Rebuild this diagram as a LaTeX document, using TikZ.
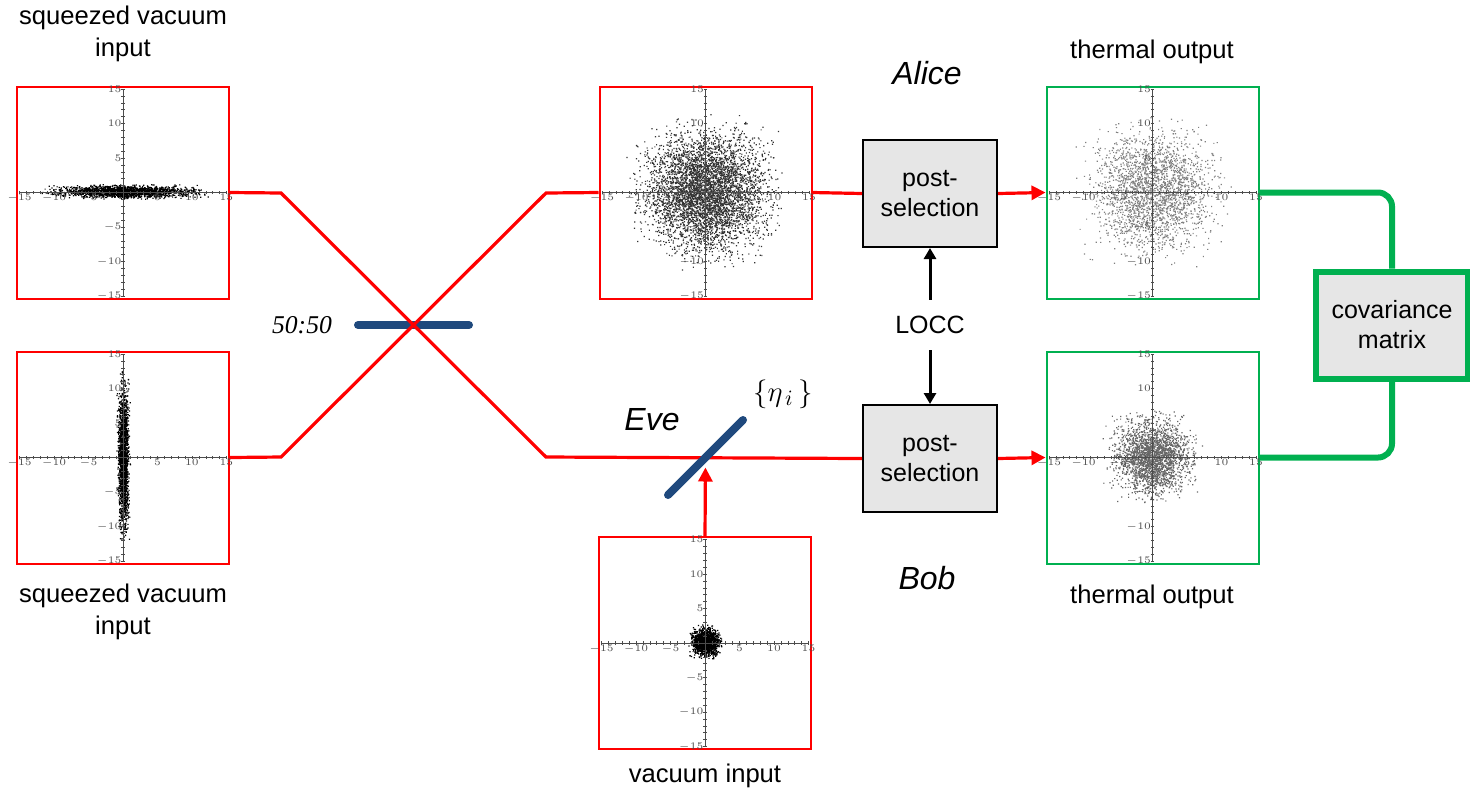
\documentclass[tikz,border=0pt]{standalone}
\usepackage{fontspec}
\setmainfont{Liberation Sans}
\newfontfamily\timesfont{Liberation Serif}
\usetikzlibrary{arrows.meta}
\definecolor{beamred}{RGB}{255,0,0}
\definecolor{linkgreen}{RGB}{0,176,80}
\definecolor{splitblue}{RGB}{31,73,125}
\definecolor{boxgray}{RGB}{230,230,230}
\tikzset{
  plotbox/.style={draw=#1, line width=1pt, minimum size=106pt, inner sep=0pt},
  plotbox/.default=beamred,
  beam/.style={draw=beamred, line width=1.6pt},
  beamarrow/.style={beam, -{Triangle[length=7pt,width=7pt]}},
  link/.style={draw=linkgreen, line width=3pt, rounded corners=7pt},
  ctrl/.style={draw=black, line width=1.5pt, -{Triangle[length=5.5pt,width=6pt]}},
  splitter/.style={draw=splitblue, line width=4pt, line cap=round},
  psbox/.style={draw=black, fill=boxgray, line width=1pt, minimum width=67pt,
    minimum height=53.5pt, align=center, font=\fontsize{12.5}{15}\selectfont},
  covbox/.style={psbox, draw=linkgreen, line width=3pt, minimum width=76pt},
  caption/.style={align=center, font=\fontsize{12.8}{16}\selectfont},
  party/.style={font=\fontsize{16}{18}\selectfont\itshape},
  axis/.style={draw=black!70, line width=0.3pt},
  ticklabel/.style={font=\fontsize{2.5}{3}\selectfont, text=black!70, inner sep=0.6pt}
}
% scatter of a quadrature distribution with its axes
% #1 node, #2 sd in x, #3 sd in y, #4 hundreds of dots, #5 dot colour, #6 seed
\newcommand{\phasespace}[6]{%
  \begin{scope}[shift={(#1.center)}, x=3.45pt, y=3.45pt]
    \pgfmathsetseed{#6}
    \foreach \c in {1,...,#4}
      \fill[#5] \foreach \k in {1,...,100} {
        ({#2*(rand+rand+rand)},{#3*(rand+rand+rand)}) rectangle ++(0.6pt,0.6pt)};
    \draw[axis] (-15,0) -- (15,0);
    \draw[axis] (0,-15) -- (0,15);
    \foreach \t in {-15,...,15} {
      \draw[axis] (\t,-0.25) -- (\t,0.25);
      \draw[axis] (-0.25,\t) -- (0.25,\t);
    }
    \foreach \t in {-15,-10,-5,5,10,15} {
      \node[ticklabel, below] at (\t,0) {$\t$};
      \node[ticklabel, left] at (0,\t) {$\t$};
    }
  \end{scope}}

\begin{document}
\begin{tikzpicture}[x=0.5pt, y=-0.5pt]
  \useasboundingbox (0,0) rectangle (1470,794);

  % input, mixed and output states
  \node[plotbox] (sqtop) at (123,192.5) {};
  \node[plotbox] (sqbot) at (123,457.5) {};
  \node[plotbox] (mixed) at (705.5,192.5) {};
  \node[plotbox] (vacuum) at (705,643) {};
  \node[plotbox=linkgreen] (thermA) at (1152.5,192.5) {};
  \node[plotbox=linkgreen] (thermB) at (1152.5,457.5) {};

  \phasespace{sqtop}{4.6}{0.4}{20}{black}{11}
  \phasespace{sqbot}{0.35}{4.6}{20}{black}{12}
  \phasespace{mixed}{4.0}{4.0}{48}{black!80}{13}
  \phasespace{vacuum}{0.9}{0.9}{15}{black}{14}
  \phasespace{thermA}{4.0}{4.0}{24}{black!50}{15}
  \phasespace{thermB}{2.5}{2.5}{24}{black!60}{16}

  % processing boxes
  \node[psbox] (postA) at (930,193.5) {post-\\selection};
  \node[psbox] (postB) at (930,458.5) {post-\\selection};
  \node[covbox] (covar) at (1392,325) {covariance\\matrix};

  % 50:50 beam splitter
  \coordinate (bs) at (413.5,325);
  \draw[splitter] (358,325) -- (469,325);
  \node[font=\fontsize{12.8}{15}\selectfont\timesfont\itshape] (ratio) at (302,325) {50:50};

  % beams through the splitter
  \draw[beam] (sqtop.east) -- (281,193) -- (bs) -- (546,457) -- (postB.west);
  \draw[beam] (sqbot.east) -- (281,457) -- (bs) -- (546,193) -- (mixed.west);
  \draw[beam] (mixed.east) -- (postA.west);
  \draw[beamarrow] (postA.east) -- (thermA.west);
  \draw[beamarrow] (postB.east) -- (thermB.west);

  % Eve's tap
  \coordinate (eve) at (705.5,457.5);
  \draw[beamarrow, shorten >=5pt] (vacuum.north) -- (eve);
  \draw[splitter] (668,495) -- (743,420);
  \node[party] (evelabel) at (652,420) {Eve};
  \node[font=\fontsize{15}{17}\selectfont] (eta) at (783,394) {$\{\eta_{\,i}\,\}$};

  % classical communication
  \node[font=\fontsize{12.5}{15}\selectfont, inner sep=8pt] (locc) at (930,325) {LOCC};
  \draw[ctrl] (locc) -- (postA);
  \draw[ctrl] (locc) -- (postB);

  % outputs to the covariance matrix
  \draw[link] (thermA.east) -| (covar.north);
  \draw[link] (thermB.east) -| (covar.south);

  % captions
  \node[caption] (captA) at (123,34) {squeezed vacuum\\input};
  \node[caption] (captB) at (123,612) {squeezed vacuum\\input};
  \node[caption] (captV) at (705,776) {vacuum input};
  \node[caption] (captTA) at (1152,52) {thermal output};
  \node[caption] (captTB) at (1152,597) {thermal output};
  \node[party] (alice) at (927,73) {Alice};
  \node[party] (bob) at (927,578) {Bob};
\end{tikzpicture}
\end{document}
